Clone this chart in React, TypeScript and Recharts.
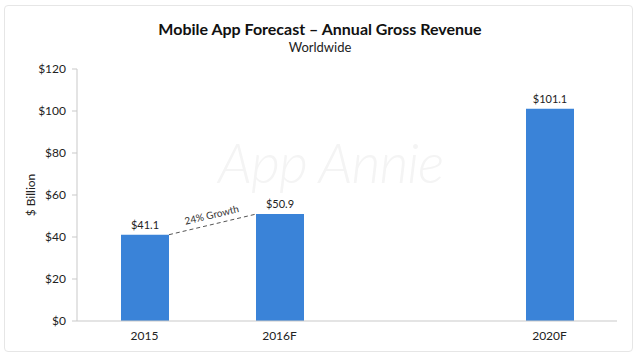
import { BarChart, Bar, XAxis, YAxis, LabelList } from 'recharts';

const categories = ['2015', '2016F', '', '2020F'];
const revenue = [41.1, 50.9, null, 101.1];
const yTicks = [0, 20, 40, 60, 80, 100, 120];
const growthFrom = 0;
const growthTo = 1;

const W = 640;
const H = 362;
const AXIS_W = 77;
const X_AXIS_H = 30;
const MARGIN = { top: 69, right: 23, left: 0, bottom: 11 };
const FONT = 'Lato, "Open Sans", sans-serif';
const BLUE = '#3a83d8';
const AXIS_GREY = '#c9c9c9';

const data = categories.map((name, i) => ({ name, value: revenue[i] }));

// dashed growth line between the two first bars, drawn from the first bar's label slot
function GrowthLabel(props: any) {
  const { x, y, width, height, index } = props;
  if (index !== growthFrom) return null;
  const step = (W - MARGIN.left - MARGIN.right - AXIS_W) / categories.length;
  const a = revenue[growthFrom] as number;
  const b = revenue[growthTo] as number;
  const x1 = x + width;
  const y1 = y;
  const x2 = x + step * (growthTo - growthFrom);
  const y2 = y + height - (height * b) / a;
  const angle = (Math.atan2(y2 - y1, x2 - x1) * 180) / Math.PI;
  const mx = (x1 + x2) / 2;
  const my = (y1 + y2) / 2;
  const pct = Math.round((b / a - 1) * 100);
  return (
    <g>
      <line x1={x1} y1={y1} x2={x2} y2={y2} stroke="#555" strokeWidth={1} strokeDasharray="4 3" />
      <text
        x={mx}
        y={my - 6}
        textAnchor="middle"
        fontSize={10}
        fill="#333"
        fontFamily={FONT}
        transform={`rotate(${angle} ${mx} ${my - 6})`}
      >
        {pct}% Growth
      </text>
    </g>
  );
}

function YLabel(props: any) {
  const { viewBox } = props;
  const cx = viewBox.x + 30;
  const cy = viewBox.y + viewBox.height / 2;
  return (
    <text
      x={cx}
      y={cy}
      textAnchor="middle"
      dominantBaseline="central"
      fontSize={12}
      fill="#222"
      fontFamily={FONT}
      transform={`rotate(-90 ${cx} ${cy})`}
    >
      $ Billion
    </text>
  );
}

export default function App() {
  return (
    <div style={{ position: 'absolute', left: 0, top: 0, width: W, height: H, background: '#fff', fontFamily: FONT }}>
      <div
        style={{
          position: 'absolute',
          left: 4,
          top: 5,
          width: 629,
          height: 347,
          border: '1px solid #e6e6e6',
          borderRadius: 4,
          boxSizing: 'border-box',
        }}
      />
      <div
        style={{
          position: 'absolute',
          left: 218,
          top: 136,
          fontSize: 56,
          lineHeight: '52px',
          fontStyle: 'italic',
          fontWeight: 300,
          color: '#f4f4f4',
          letterSpacing: -1,
          whiteSpace: 'nowrap',
        }}
      >
        App Annie
      </div>
      <div style={{ position: 'absolute', left: 0, top: 19, width: W, textAlign: 'center', fontSize: 16, fontWeight: 700, color: '#111' }}>
        Mobile App Forecast – Annual Gross Revenue
      </div>
      <div style={{ position: 'absolute', left: 0, top: 39, width: W, textAlign: 'center', fontSize: 13, color: '#222' }}>
        Worldwide
      </div>
      <div style={{ position: 'absolute', left: 0, top: 0 }}>
        <BarChart width={W} height={H} data={data} margin={MARGIN}>
          <XAxis
            dataKey="name"
            height={X_AXIS_H}
            tickLine={false}
            axisLine={{ stroke: AXIS_GREY }}
            tickMargin={4}
            tick={{ fontSize: 12, fill: '#222', fontFamily: FONT }}
          />
          <YAxis
            width={AXIS_W}
            domain={[0, 120]}
            ticks={yTicks}
            tickFormatter={(v) => `$${v}`}
            axisLine={{ stroke: AXIS_GREY }}
            tickLine={{ stroke: AXIS_GREY }}
            tickSize={5}
            tickMargin={6}
            tick={{ fontSize: 12, fill: '#222', fontFamily: FONT }}
            label={<YLabel />}
          />
          <Bar dataKey="value" fill={BLUE} barSize={48} isAnimationActive={false}>
            <LabelList
              dataKey="value"
              position="top"
              offset={6}
              formatter={(v: any) => (v == null ? '' : `$${v}`)}
              style={{ fontSize: 11, fill: '#222', fontFamily: FONT }}
            />
            <LabelList dataKey="value" content={<GrowthLabel />} />
          </Bar>
        </BarChart>
      </div>
    </div>
  );
}
